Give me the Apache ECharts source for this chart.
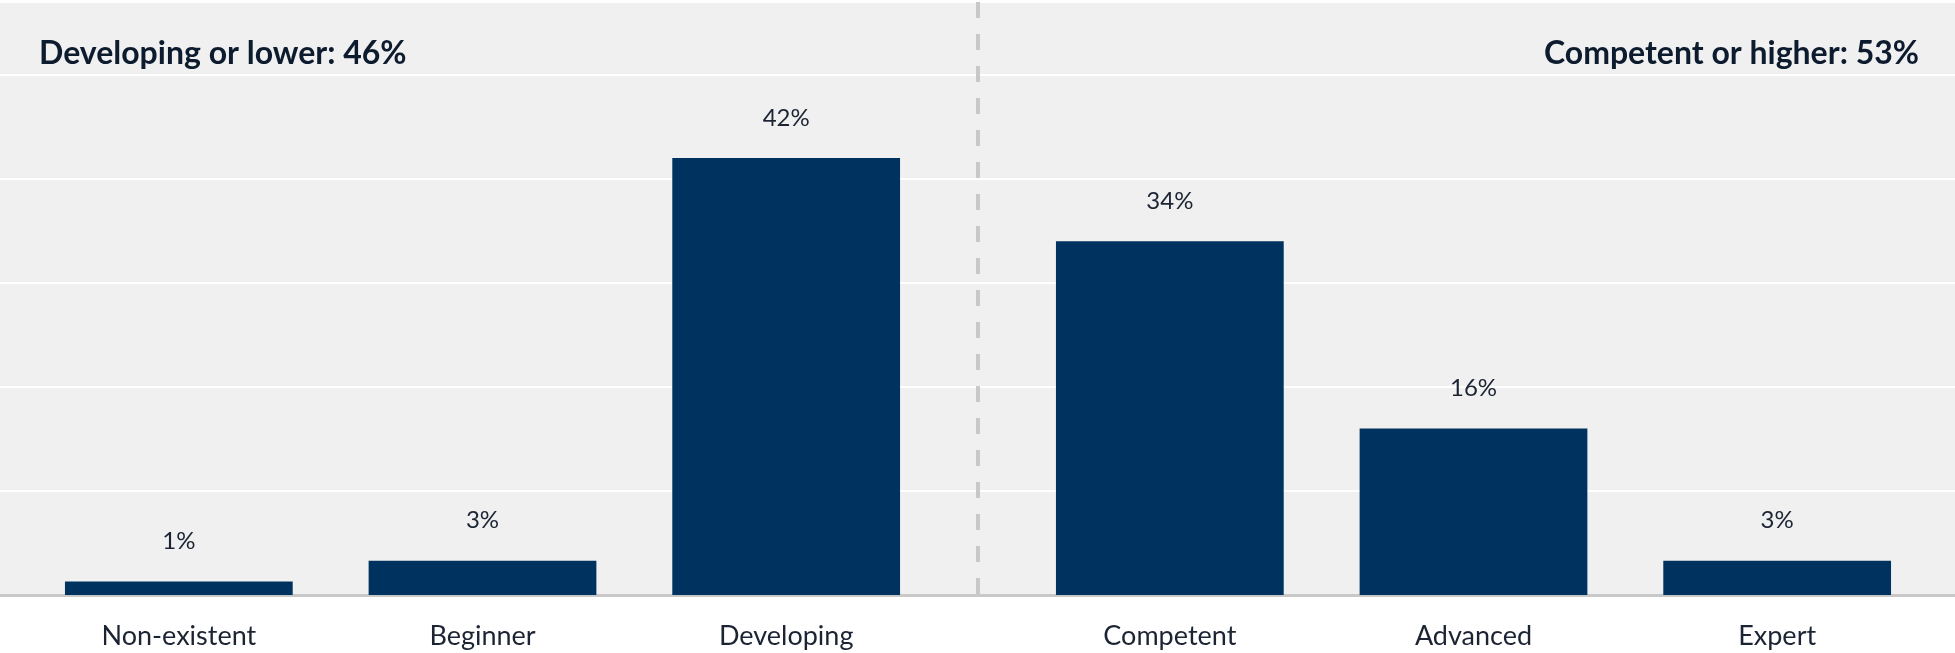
<!DOCTYPE html>
<html>
<head>
<meta charset="utf-8">
<script src="https://cdn.jsdelivr.net/npm/echarts@6/dist/echarts.min.js"></script>
<style>
html, body { margin: 0; padding: 0; background: #ffffff; }
#main { width: 1955px; height: 653px; }
</style>
</head>
<body>
<div id="main"></div>
<script>
var groupTitles = ['Developing or lower: 46%', 'Competent or higher: 53%'];

var categoriesLow = ['Non-existent', 'Beginner', 'Developing'];
var valuesLow = [1.3, 3.3, 42];
var labelsLow = ['1%', '3%', '42%'];

var categoriesHigh = ['Competent', 'Advanced', 'Expert'];
var valuesHigh = [34, 16, 3.3];
var labelsHigh = ['34%', '16%', '3%'];

var yMax = 57;
var yStep = 10;

var barColor = '#00325f';
var textColor = '#1c2433';
var fontName = 'Lato';

function barSeries(idx, values, labels) {
    return {
        type: 'bar',
        xAxisIndex: idx,
        yAxisIndex: idx,
        data: values,
        barCategoryGap: '25%',
        itemStyle: { color: barColor },
        label: {
            show: true,
            position: 'top',
            distance: 28,
            fontFamily: fontName,
            fontSize: 24,
            color: textColor,
            formatter: function (p) { return labels[p.dataIndex]; }
        },
        silent: true
    };
}

function catAxis(idx, cats) {
    return {
        type: 'category',
        gridIndex: idx,
        data: cats,
        axisLine: { show: false },
        axisTick: { show: false },
        splitLine: { show: false },
        axisLabel: {
            margin: 28,
            fontFamily: fontName,
            fontSize: 27,
            color: textColor
        }
    };
}

function valAxis(idx, showSplit) {
    return {
        type: 'value',
        gridIndex: idx,
        min: 0,
        max: yMax,
        interval: yStep,
        axisLabel: { show: false },
        axisLine: { show: false },
        axisTick: { show: false },
        splitLine: { show: showSplit, lineStyle: { color: '#ffffff', width: 2 } }
    };
}

var chart = echarts.init(document.getElementById('main'));

var option = {
    animation: false,
    backgroundColor: '#ffffff',
    title: [
        {
            text: groupTitles[0], left: 34, top: 33,
            textStyle: { fontFamily: fontName, fontWeight: 'bold', fontSize: 32, color: '#0d1b2e' }
        },
        {
            text: groupTitles[1], right: 31, top: 33,
            textStyle: { fontFamily: fontName, fontWeight: 'bold', fontSize: 32, color: '#0d1b2e' }
        }
    ],
    grid: [
        { left: 0, right: 0, top: 2, bottom: 58, show: true, backgroundColor: '#f0f0f0', borderWidth: 0 },
        { left: 27, width: 911, top: 2, bottom: 58 },
        { left: 1018, width: 911, top: 2, bottom: 58 }
    ],
    xAxis: [
        {
            // group axis: 0..1 low group, 1..2 high group, divider at 1
            type: 'value',
            gridIndex: 0,
            min: 0,
            max: 2,
            interval: 1,
            axisLabel: { show: false },
            axisTick: { show: false },
            axisLine: { show: true, lineStyle: { color: '#c8c8c8', width: 3 } },
            splitLine: {
                show: true,
                showMinLine: false,
                showMaxLine: false,
                lineStyle: { color: '#c8c8c8', width: 4, type: [16, 16] }
            }
        },
        catAxis(1, categoriesLow),
        catAxis(2, categoriesHigh)
    ],
    yAxis: [
        valAxis(0, true),
        valAxis(1, false),
        valAxis(2, false)
    ],
    series: [
        barSeries(1, valuesLow, labelsLow),
        barSeries(2, valuesHigh, labelsHigh)
    ]
};

chart.setOption(option);
</script>
</body>
</html>
